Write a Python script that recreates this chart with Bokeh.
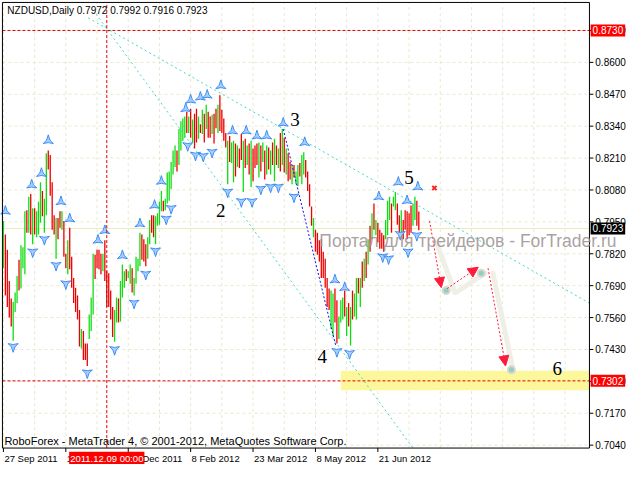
import math
from bokeh.plotting import figure
from bokeh.models import Label, Arrow, NormalHead, Range1d, ColumnDataSource
from bokeh.core.properties import value
from bokeh.embed import file_html
from bokeh.resources import INLINE

# ---------------- data (prices in pips, 1 pip = 0.0001) ----------------
# daily bars, bar 0 = 27 Sep 2011
HIGH = [7954, 7899, 7836, 7709, 7638, 7623, 7662, 7729, 7796, 7855,
        7847, 7993, 7997, 8052, 8064, 8005, 8005, 7993, 8032, 8111,
        8076, 8044, 8230, 8241, 8222, 8111, 7977, 7966, 7966, 7993,
        7993, 7954, 7820, 7875, 7926, 7808, 7721, 7682, 7650, 7591,
        7513, 7505, 7454, 7454, 7572, 7642, 7820, 7816, 7836, 7836,
        7820, 7820, 7875, 7749, 7741, 7670, 7603, 7591, 7642, 7638,
        7709, 7776, 7749, 7757, 7749, 7776, 7761, 7721, 7808, 7800,
        7906, 7899, 7879, 7859, 7887, 7958, 7977, 7977, 7973, 7985,
        8032, 8076, 8036, 8044, 8151, 8155, 8194, 8241, 8261, 8241,
        8328, 8360, 8371, 8379, 8399, 8379, 8411, 8367, 8391, 8411,
        8379, 8348, 8407, 8391, 8427, 8399, 8379, 8387, 8391, 8411,
        8427, 8466, 8407, 8371, 8312, 8281, 8300, 8273, 8281, 8269,
        8261, 8249, 8308, 8281, 8289, 8261, 8269, 8281, 8249, 8261,
        8269, 8273, 8261, 8273, 8241, 8261, 8253, 8241, 8273, 8289,
        8261, 8249, 8312, 8328, 8293, 8249, 8230, 8194, 8182, 8182,
        8155, 8182, 8190, 8222, 8234, 8202, 8155, 8103, 8013, 7966,
        7918, 7906, 7875, 7879, 7828, 7800, 7721, 7678, 7670, 7658,
        7678, 7631, 7564, 7631, 7642, 7670, 7603, 7619, 7603, 7670,
        7658, 7721, 7721, 7721, 7788, 7800, 7828, 7879, 7934, 7985,
        8025, 7958, 7946, 7918, 7906, 7895, 7958, 8036, 8052, 8025,
        8052, 8072, 8025, 7977, 7997, 7958, 7997, 7993, 7985, 8017,
        8025, 8052, 8036, 7992]
LOW = [7761, 7650, 7603, 7560, 7524, 7465, 7583, 7619, 7670, 7678,
       7761, 7737, 7906, 7906, 7899, 7859, 7899, 7887, 7899, 7946,
       7973, 7906, 7977, 8163, 8056, 7918, 7899, 7800, 7879, 7926,
       7918, 7808, 7761, 7737, 7757, 7682, 7619, 7583, 7552, 7442,
       7434, 7387, 7387, 7363, 7473, 7505, 7572, 7717, 7761, 7757,
       7737, 7749, 7709, 7603, 7603, 7552, 7481, 7461, 7540, 7540,
       7544, 7642, 7682, 7709, 7721, 7698, 7662, 7650, 7698, 7749,
       7769, 7796, 7788, 7769, 7800, 7859, 7906, 7887, 7859, 7934,
       7938, 7993, 7993, 7997, 8025, 8036, 8084, 8143, 8174, 8155,
       8182, 8241, 8281, 8293, 8312, 8312, 8293, 8273, 8249, 8273,
       8289, 8312, 8308, 8273, 8328, 8293, 8293, 8308, 8269, 8332,
       8312, 8320, 8312, 8281, 8253, 8103, 8194, 8190, 8111, 8135,
       8174, 8170, 8202, 8072, 8170, 8182, 8143, 8092, 8115, 8170,
       8182, 8131, 8155, 8194, 8123, 8143, 8163, 8143, 8182, 8115,
       8182, 8170, 8155, 8182, 8151, 8143, 8115, 8123, 8103, 8131,
       8103, 8096, 8135, 8103, 8143, 8131, 8076, 8013, 7934, 7887,
       7828, 7816, 7788, 7721, 7721, 7682, 7603, 7591, 7513, 7485,
       7540, 7454, 7473, 7540, 7552, 7564, 7485, 7524, 7446, 7552,
       7564, 7552, 7658, 7603, 7682, 7709, 7721, 7776, 7828, 7879,
       7918, 7895, 7867, 7840, 7840, 7828, 7879, 7895, 7958, 7906,
       8013, 7997, 7938, 7906, 7899, 7879, 7918, 7879, 7895, 7906,
       7934, 7958, 7934, 7916]
# G = bullish bar, R = bearish bar
DIRECTION = ("GRRRRGGGRG" "GGRGRGRGGG" "RGGRRRRGRR" "GRRGRRRRRR" "GRRRGGGRRR"
             "RGRRRRRGGR" "GGGRGGRGGG" "GRRRGGRRGG" "GGRGGGGGGR" "GGGGRGRGRR"
             "GRGRGRRGRR" "GRRRRGRGGR" "GRRGRGRGRR" "RGRGRGRGRG" "RGRGRGRRGR"
             "GGRGGRRRRG" "RRRRRRRRGG" "RRGGGRGRGR" "GGRGRGRGRG" "RGRRRRGGGR"
             "GGRRGRRRRR" "GGRR")

X_TICKS = [0, 32, 64, 96, 128, 160, 192]
X_LABELS = ["27 Sep 2011", "10 Nov 2011", "26 Dec 2011", "8 Feb 2012",
            "23 Mar 2012", "8 May 2012", "21 Jun 2012"]
X_GRID = list(range(0, 300, 16))
Y_TICKS = [0.7040, 0.7170, 0.7300, 0.7430, 0.7560, 0.7690, 0.7820,
           0.7950, 0.8080, 0.8210, 0.8340, 0.8470, 0.8600, 0.8730]

# fractals (bar index, price in pips)
UP_FRACT_X = [1, 14.5, 19.5, 23, 29.5, 34, 48.5, 52, 61, 70, 77.5, 81, 93.5, 96,
              101, 104.5, 111.5, 117.5, 124.5, 130, 135, 143.5, 154.5, 170, 175,
              192.5, 202.5, 207, 212.5]
UP_FRACT_Y = [7993, 8100, 8147, 8281, 8032, 7962, 7875, 7914, 7812, 7942, 8017,
              8115, 8411, 8446, 8458, 8466, 8505, 8320, 8320, 8300, 8300, 8352,
              8273, 7713, 7682, 8052, 8111, 8036, 8092]
DN_FRACT_X = [5, 15, 21, 27, 32, 43, 57, 67, 73, 78, 83.5, 86, 94.5, 98.5, 102.5,
              107, 115, 122, 127.5, 132, 137, 141, 149, 171, 177.5, 194.5, 197.5,
              203.5, 207.5, 212]
DN_FRACT_Y = [7442, 7828, 7879, 7773, 7698, 7335, 7430, 7619, 7737, 7832, 7962,
              8005, 8261, 8222, 8218, 8234, 8072, 8033, 8033, 8084, 8092, 8092,
              8052, 7422, 7414, 7808, 7800, 7899, 7828, 7895]

# wave labels
WAVE_TEXT = ["2", "3", "4", "5", "6"]
WAVE_X = [111.5, 149.5, 163.5, 208, 284]
WAVE_Y = [7997, 8367, 7402, 8131, 7351]

# channel lines (bar index, price in pips)
CHAN_UP_X = [43.5, 300.5]
CHAN_UP_Y = [8781, 7619]
CHAN_LO_X = [47.5, 210]
CHAN_LO_Y = [8797, 7028]
# wave 3 -> 4 line
W34_X = [143.5, 170.5]
W34_Y = [8328, 7442]

# forecast path
FC_X0 = [218.5, 227.5, 248.5]
FC_Y0 = [7954, 7678, 7761]
FC_X1 = [224.5, 243.5, 257.5]
FC_Y1 = [7682, 7765, 7363]
FC_DOT_X = [227, 245, 260.5]
FC_DOT_Y = [7670, 7741, 7347]
SHADOW_X0 = [222, 232, 251]
SHADOW_Y0 = [7867, 7662, 7741]
SHADOW_X1 = [231.5, 247, 261.5]
SHADOW_Y1 = [7662, 7741, 7339]
CROSS_X = [221]
CROSS_Y = [8088]

TARGET_LO, TARGET_HI, TARGET_START = 7264, 7343, 173
LEVEL_HI, LEVEL_LO, BID = 0.8730, 0.7302, 0.7923
VLINE_BAR = 53
VLINE_TEXT = "2011.12.09 00:00"

# chart window (bar index / price) and whole canvas
WIN_L, WIN_R, WIN_B, WIN_T = -0.5, 300.5, 0.70282, 0.88442
CAN_L, CAN_R, CAN_B, CAN_T = -1.5, 319.5, 0.69612, 0.88521
TICK_X = 2.0        # tick length in bars
TICK_Y = 0.0016     # tick length in price

P = 1e-4
def px(v):
    return [a * P for a in v]

FONT = "Liberation Sans"

p = figure(width=626, height=464, x_range=Range1d(CAN_L, CAN_R),
           y_range=Range1d(CAN_B, CAN_T), x_axis_location=None,
           y_axis_location=None, output_backend="svg", toolbar_location=None,
           min_border=0)
p.grid.visible = False
p.outline_line_color = None
p.background_fill_color = "white"
p.border_fill_color = "white"

# grid
p.segment(x0=X_GRID, y0=[WIN_B] * len(X_GRID), x1=X_GRID, y1=[WIN_T] * len(X_GRID),
          line_color="#e8e8cf", line_dash="3 3", line_width=1)
p.segment(x0=[WIN_L] * len(Y_TICKS), y0=Y_TICKS, x1=[WIN_R] * len(Y_TICKS), y1=Y_TICKS,
          line_color="#e8e8cf", line_dash="3 3", line_width=1)

# target zone
p.quad(left=[TARGET_START], right=[WIN_R], bottom=[TARGET_LO * P],
       top=[TARGET_HI * P], fill_color="#fdf79c", line_color=None)

# bid line
p.segment(x0=[WIN_L], y0=[BID], x1=[WIN_R], y1=[BID], line_color="#ecebbd", line_width=1)

# bars
idx = list(range(len(HIGH)))
bar_colors = ["#10dd10" if d == "G" else "#ee0000" for d in DIRECTION]
src = ColumnDataSource(dict(x=idx, hi=px(HIGH), lo=px(LOW), c=bar_colors))
p.segment(x0="x", y0="lo", x1="x", y1="hi", color="c", line_width=1.3, source=src)

# channel lines
p.line(CHAN_UP_X, px(CHAN_UP_Y), line_color="#3fd8cc", line_dash="2 3", line_width=1)
p.line(CHAN_LO_X, px(CHAN_LO_Y), line_color="#3fd8cc", line_dash="2 3", line_width=1)
p.line(W34_X, px(W34_Y), line_color="#1010ee", line_dash="2 2", line_width=1)

# fractals
p.scatter(UP_FRACT_X, px(UP_FRACT_Y), marker="triangle_pin", size=10,
          fill_color="#a6cfff", line_color="#3a8cf5", line_width=1)
p.scatter(DN_FRACT_X, px(DN_FRACT_Y), marker="triangle_pin", size=10, angle=math.pi,
          fill_color="#a6cfff", line_color="#3a8cf5", line_width=1)

# red cross
p.scatter(CROSS_X, px(CROSS_Y), marker="x", size=6, line_color="#ff2020", line_width=2)

# forecast shadows, arrows and dots
p.segment(x0=SHADOW_X0, y0=px(SHADOW_Y0), x1=SHADOW_X1, y1=px(SHADOW_Y1),
          line_color="#efefe6", line_width=5, line_cap="round")
for xs, ys, xe, ye in zip(FC_X0, FC_Y0, FC_X1, FC_Y1):
    p.add_layout(Arrow(x_start=xs, y_start=ys * P, x_end=xe, y_end=ye * P,
                       line_color="#ff1a3c", line_dash="2 2", line_width=1,
                       end=NormalHead(size=10, fill_color="#ff1a3c",
                                      line_color="#ff1a3c")))
p.scatter(FC_DOT_X, px(FC_DOT_Y), size=7, fill_color="#8fd0c0",
          line_color="#d8d8cc", line_width=2)

# red dashed crosshair / levels
p.segment(x0=[WIN_L, WIN_L], y0=[LEVEL_HI, LEVEL_LO], x1=[WIN_R, WIN_R],
          y1=[LEVEL_HI, LEVEL_LO], line_color="#e00000", line_dash="3 2", line_width=1)
p.segment(x0=[VLINE_BAR], y0=[WIN_B], x1=[VLINE_BAR], y1=[WIN_T],
          line_color="#e00000", line_dash="3 2", line_width=1)

# chart window border and axis ticks
p.quad(left=[WIN_L], right=[WIN_R], bottom=[WIN_B], top=[WIN_T],
       fill_color=None, line_color="black", line_width=1)
p.segment(x0=[WIN_R] * len(Y_TICKS), y0=Y_TICKS, x1=[WIN_R + TICK_X] * len(Y_TICKS),
          y1=Y_TICKS, line_color="black", line_width=1)
p.segment(x0=X_TICKS, y0=[WIN_B] * len(X_TICKS), x1=X_TICKS,
          y1=[WIN_B - TICK_Y] * len(X_TICKS), line_color="black", line_width=1)

# tick labels
p.text(x=[WIN_R + 3.0] * len(Y_TICKS), y=Y_TICKS, text=["%.4f" % t for t in Y_TICKS],
       text_font=value(FONT), text_font_size="10px", text_color="black",
       text_align="left", text_baseline="middle")
p.text(x=[t + 0.5 for t in X_TICKS], y=[WIN_B - 2.6 * TICK_Y] * len(X_TICKS),
       text=X_LABELS, text_font=value(FONT), text_font_size="9.5px",
       text_color="black", text_align="left", text_baseline="middle")

# wave labels
p.text(x=WAVE_X, y=px(WAVE_Y), text=WAVE_TEXT, text_font=value("Liberation Serif"),
       text_font_size="19px", text_color="black", text_align="center",
       text_baseline="middle")

# texts
p.add_layout(Label(x=2, y=0.8813, text="NZDUSD,Daily  0.7972 0.7992 0.7916 0.7923",
                   text_font=FONT, text_font_size="10px", text_color="#000000",
                   text_baseline="middle"))
p.add_layout(Label(x=0.5, y=0.7059,
                   text="RoboForex - MetaTrader 4, \u00a9 2001-2012, MetaQuotes Software Corp.",
                   text_font=FONT, text_font_size="11px", text_color="#000000",
                   text_baseline="middle"))
p.add_layout(Label(x=162, y=0.7871, text="Портал для трейдеров - ForTrader.ru",
                   text_font=FONT, text_font_size="17.5px", text_color="#9a9090",
                   text_alpha=0.85, text_baseline="middle"))

# price tags on the axis
for val, bg in ((LEVEL_HI, "#ff0000"), (BID, "#000000"), (LEVEL_LO, "#ff0000")):
    p.add_layout(Label(x=WIN_R + 0.6, y=val, text="%.4f" % val, text_font=FONT,
                       text_font_size="10px", text_color="white",
                       text_align="left", text_baseline="middle",
                       background_fill_color=bg, padding=2))
p.add_layout(Label(x=VLINE_BAR, y=WIN_B - 2.6 * TICK_Y, text=VLINE_TEXT, text_font=FONT,
                   text_font_size="9.5px", text_color="white", text_align="center",
                   text_baseline="middle", background_fill_color="#ff0000", padding=1))

open("out.html", "w").write(file_html(p, INLINE))
